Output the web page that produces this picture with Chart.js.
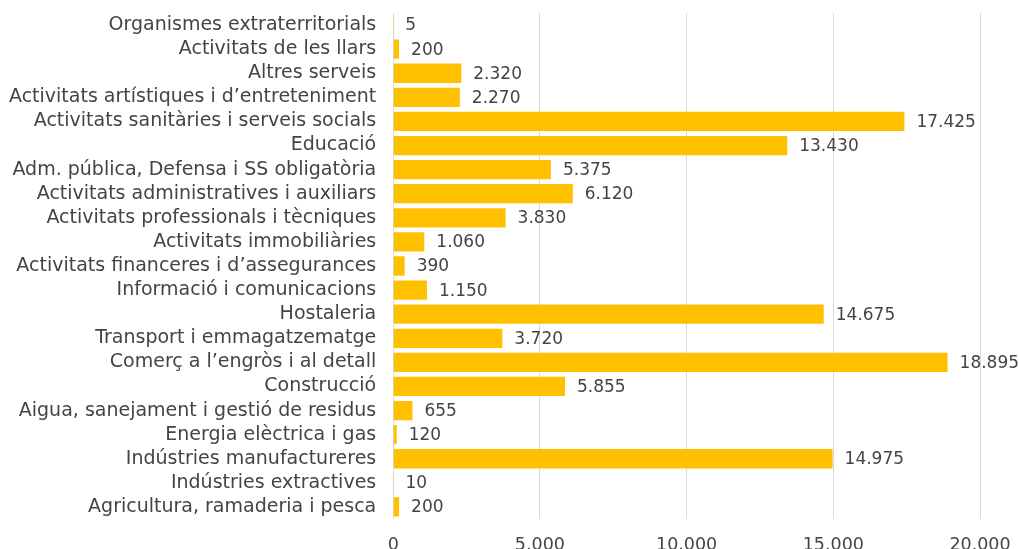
<!DOCTYPE html>
<html>
<head>
<meta charset="utf-8">
<script src="https://cdn.jsdelivr.net/npm/chart.js@4"></script>
<style>
  html, body { margin: 0; padding: 0; background: #fff; }
  #wrap { width: 1019px; height: 549px; position: relative; }
</style>
</head>
<body>
<div id="wrap"><canvas id="chart"></canvas></div>
<script>
// Sectors (top to bottom as shown)
const sectors = [
    'Organismes extraterritorials',
    'Activitats de les llars',
    'Altres serveis',
    'Activitats artístiques i d\u2019entreteniment',
    'Activitats sanitàries i serveis socials',
    'Educació',
    'Adm. pública, Defensa i SS obligatòria',
    'Activitats administratives i auxiliars',
    'Activitats professionals i tècniques',
    'Activitats immobiliàries',
    'Activitats financeres i d\u2019assegurances',
    'Informació i comunicacions',
    'Hostaleria',
    'Transport i emmagatzematge',
    'Comerç a l\u2019engròs i al detall',
    'Construcció',
    'Aigua, sanejament i gestió de residus',
    'Energia elèctrica i gas',
    'Indústries manufactureres',
    'Indústries extractives',
    'Agricultura, ramaderia i pesca'
];

const workers = [5, 200, 2320, 2270, 17425, 13430, 5375, 6120, 3830, 1060, 390, 1150,
                 14675, 3720, 18895, 5855, 655, 120, 14975, 10, 200];

const xTicks = [0, 5000, 10000, 15000, 20000];

const textColor = '#444444';
const fontFamily = 'DejaVu Sans';

// thousands separator with a dot
function fmt(v) {
    return String(v).replace(/\B(?=(\d{3})+(?!\d))/g, '.');
}

// value labels at the end of every bar
const valueLabels = {
    id: 'valueLabels',
    afterDatasetsDraw(chart) {
        const ctx = chart.ctx;
        const meta = chart.getDatasetMeta(0);
        ctx.save();
        ctx.font = '17px "' + fontFamily + '"';
        ctx.fillStyle = textColor;
        ctx.textAlign = 'left';
        ctx.textBaseline = 'middle';
        meta.data.forEach((bar, i) => {
            ctx.fillText(fmt(workers[i]), bar.x + 12, bar.y + 1);
        });
        ctx.restore();
    }
};

const ctx = document.getElementById('chart').getContext('2d');
new Chart(ctx, {
    type: 'bar',
    data: {
        labels: sectors,
        datasets: [{
            data: workers,
            backgroundColor: '#FFC000',
            borderWidth: 0,
            categoryPercentage: 1,
            barPercentage: 0.8
        }]
    },
    options: {
        indexAxis: 'y',
        responsive: true,
        maintainAspectRatio: false,
        animation: false,
        layout: { padding: { top: 13, right: 39, bottom: 0, left: 0 } },
        plugins: {
            legend: { display: false },
            tooltip: { enabled: false }
        },
        scales: {
            x: {
                min: 0,
                max: 20000,
                afterBuildTicks: axis => {
                    axis.ticks = xTicks.map(v => ({ value: v }));
                },
                afterFit: s => { s.height = 30; s.paddingLeft = 0; s.paddingRight = 0; },
                grid: { color: '#d9d9d9', drawTicks: false },
                border: { display: false },
                ticks: {
                    color: textColor,
                    padding: 16,
                    maxRotation: 0,
                    font: { family: fontFamily, size: 17.5 },
                    callback: v => fmt(v)
                }
            },
            y: {
                grid: { display: false },
                border: { display: false },
                afterFit: s => { s.paddingTop = 0; s.paddingBottom = 0; },
                ticks: {
                    color: textColor,
                    padding: 9,
                    autoSkip: false,
                    font: { family: fontFamily, size: 19 }
                }
            }
        }
    },
    plugins: [valueLabels]
});
</script>
</body>
</html>
